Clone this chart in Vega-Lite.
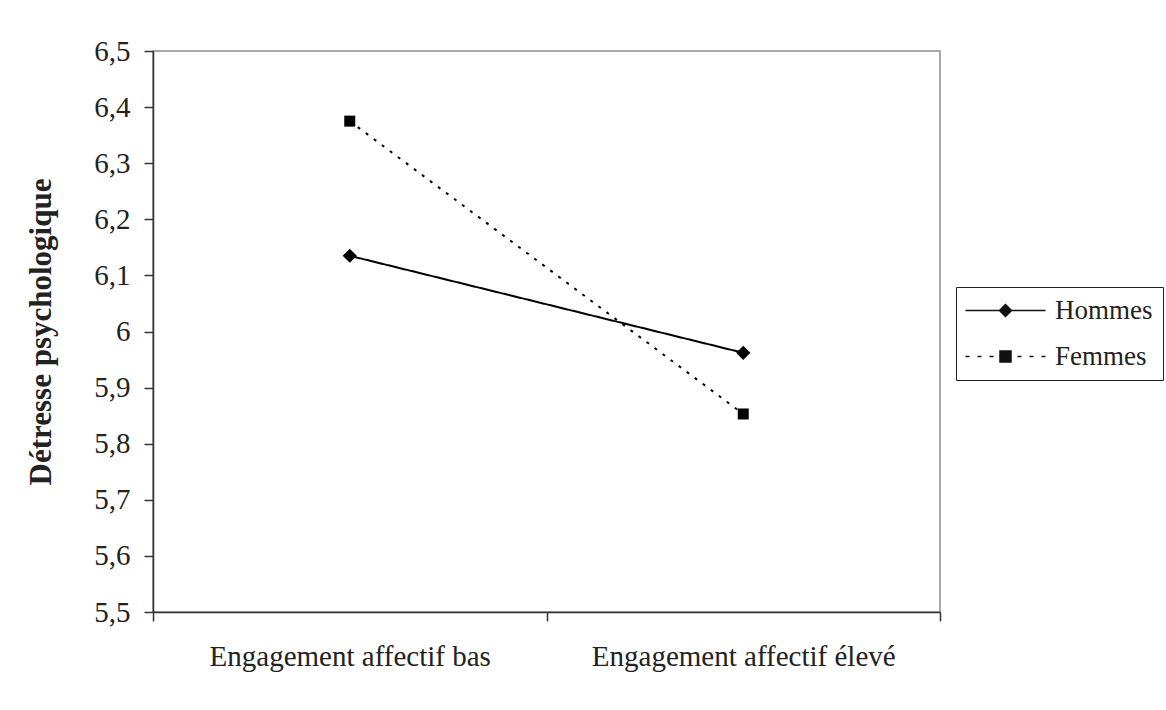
{
  "$schema": "https://vega.github.io/schema/vega-lite/v6.json",
  "width": 787,
  "height": 561,
  "autosize": {"type": "none"},
  "padding": {"left": 153, "top": 51, "right": 226, "bottom": 98},
  "background": "white",
  "config": {
    "font": "Liberation Serif",
    "view": {"stroke": "#8c8c8c", "strokeWidth": 1.5},
    "axis": {"labelFont": "Liberation Serif", "titleFont": "Liberation Serif", "labelColor": "#222", "titleColor": "#222", "domainColor": "#333", "tickColor": "#333", "domainWidth": 1.5, "tickWidth": 1.5, "grid": false, "labelLimit": 0}
  },
  "data": {
    "values": [
      {"engagement": "Engagement affectif  bas", "serie": "Hommes", "valeur": 6.135},
      {"engagement": "Engagement affectif élevé", "serie": "Hommes", "valeur": 5.962},
      {"engagement": "Engagement affectif  bas", "serie": "Femmes", "valeur": 6.375},
      {"engagement": "Engagement affectif élevé", "serie": "Femmes", "valeur": 5.853}
    ]
  },
  "encoding": {
    "x": {
      "field": "engagement", "type": "nominal", "sort": null,
      "scale": {"paddingInner": 0, "paddingOuter": 0},
      "axis": {"title": null, "labelAngle": 0, "labelFontSize": 29, "labelPadding": 21, "tickSize": 9, "tickBand": "extent"}
    },
    "y": {
      "field": "valeur", "type": "quantitative",
      "scale": {"domain": [5.5, 6.5], "nice": false, "zero": false},
      "axis": {"title": "Détresse psychologique", "titleFontSize": 31, "titleFontWeight": "bold", "titlePadding": 36, "labelFontSize": 29, "labelPadding": 14, "tickSize": 9, "values": [5.5, 5.6, 5.7, 5.8, 5.9, 6, 6.1, 6.2, 6.3, 6.4, 6.5], "labelExpr": "replace(format(datum.value, '~g'), '.', ',')"}
    }
  },
  "layer": [
    {
      "mark": {"type": "line", "color": "black", "strokeWidth": 2},
      "encoding": {
        "detail": {"field": "serie"},
        "strokeDash": {"field": "serie", "type": "nominal", "scale": {"domain": ["Hommes", "Femmes"], "range": [[1, 0], [3, 7]]}, "legend": null}
      }
    },
    {
      "mark": {"type": "point", "filled": true, "color": "black", "opacity": 1},
      "encoding": {
        "shape": {"field": "serie", "type": "nominal", "scale": {"domain": ["Hommes", "Femmes"], "range": ["diamond", "square"]}, "legend": null},
        "size": {"field": "serie", "type": "nominal", "scale": {"domain": ["Hommes", "Femmes"], "range": [200, 121]}, "legend": null}
      }
    },
    {
      "transform": [{"filter": "false"}],
      "mark": {"type": "point", "filled": true, "color": "#111", "stroke": "#111", "strokeWidth": 1.5, "size": 400, "opacity": 1},
      "encoding": {
        "shape": {
          "field": "serie", "type": "nominal",
          "scale": {"domain": ["Hommes", "Femmes"], "range": ["M-4,0H4M-0.6,0L0,-0.6L0.6,0L0,0.6Z", "M-4,0H-3.6M-2.8,0H-2.4M-1.6,0H-1.2M1.2,0H1.6M2.4,0H2.8M3.6,0H4M-0.55,-0.55H0.55V0.55H-0.55Z"]},
          "legend": {
            "title": null, "orient": "none", "legendX": 803, "legendY": 236,
            "strokeColor": "#222", "padding": 10, "symbolSize": 400, "symbolOffset": 26,
            "labelOffset": 36, "labelFontSize": 27, "labelFont": "Liberation Serif", "labelColor": "#222",
            "rowPadding": 18,
            "encode": {"symbols": {"update": {"fill": {"value": "#111"}, "stroke": {"value": "#111"}, "strokeWidth": {"value": 1.5}, "size": {"value": 400}, "opacity": {"value": 1}}}}
          }
        }
      }
    }
  ],
  "resolve": {"scale": {"shape": "independent"}, "legend": {"shape": "independent"}}
}
